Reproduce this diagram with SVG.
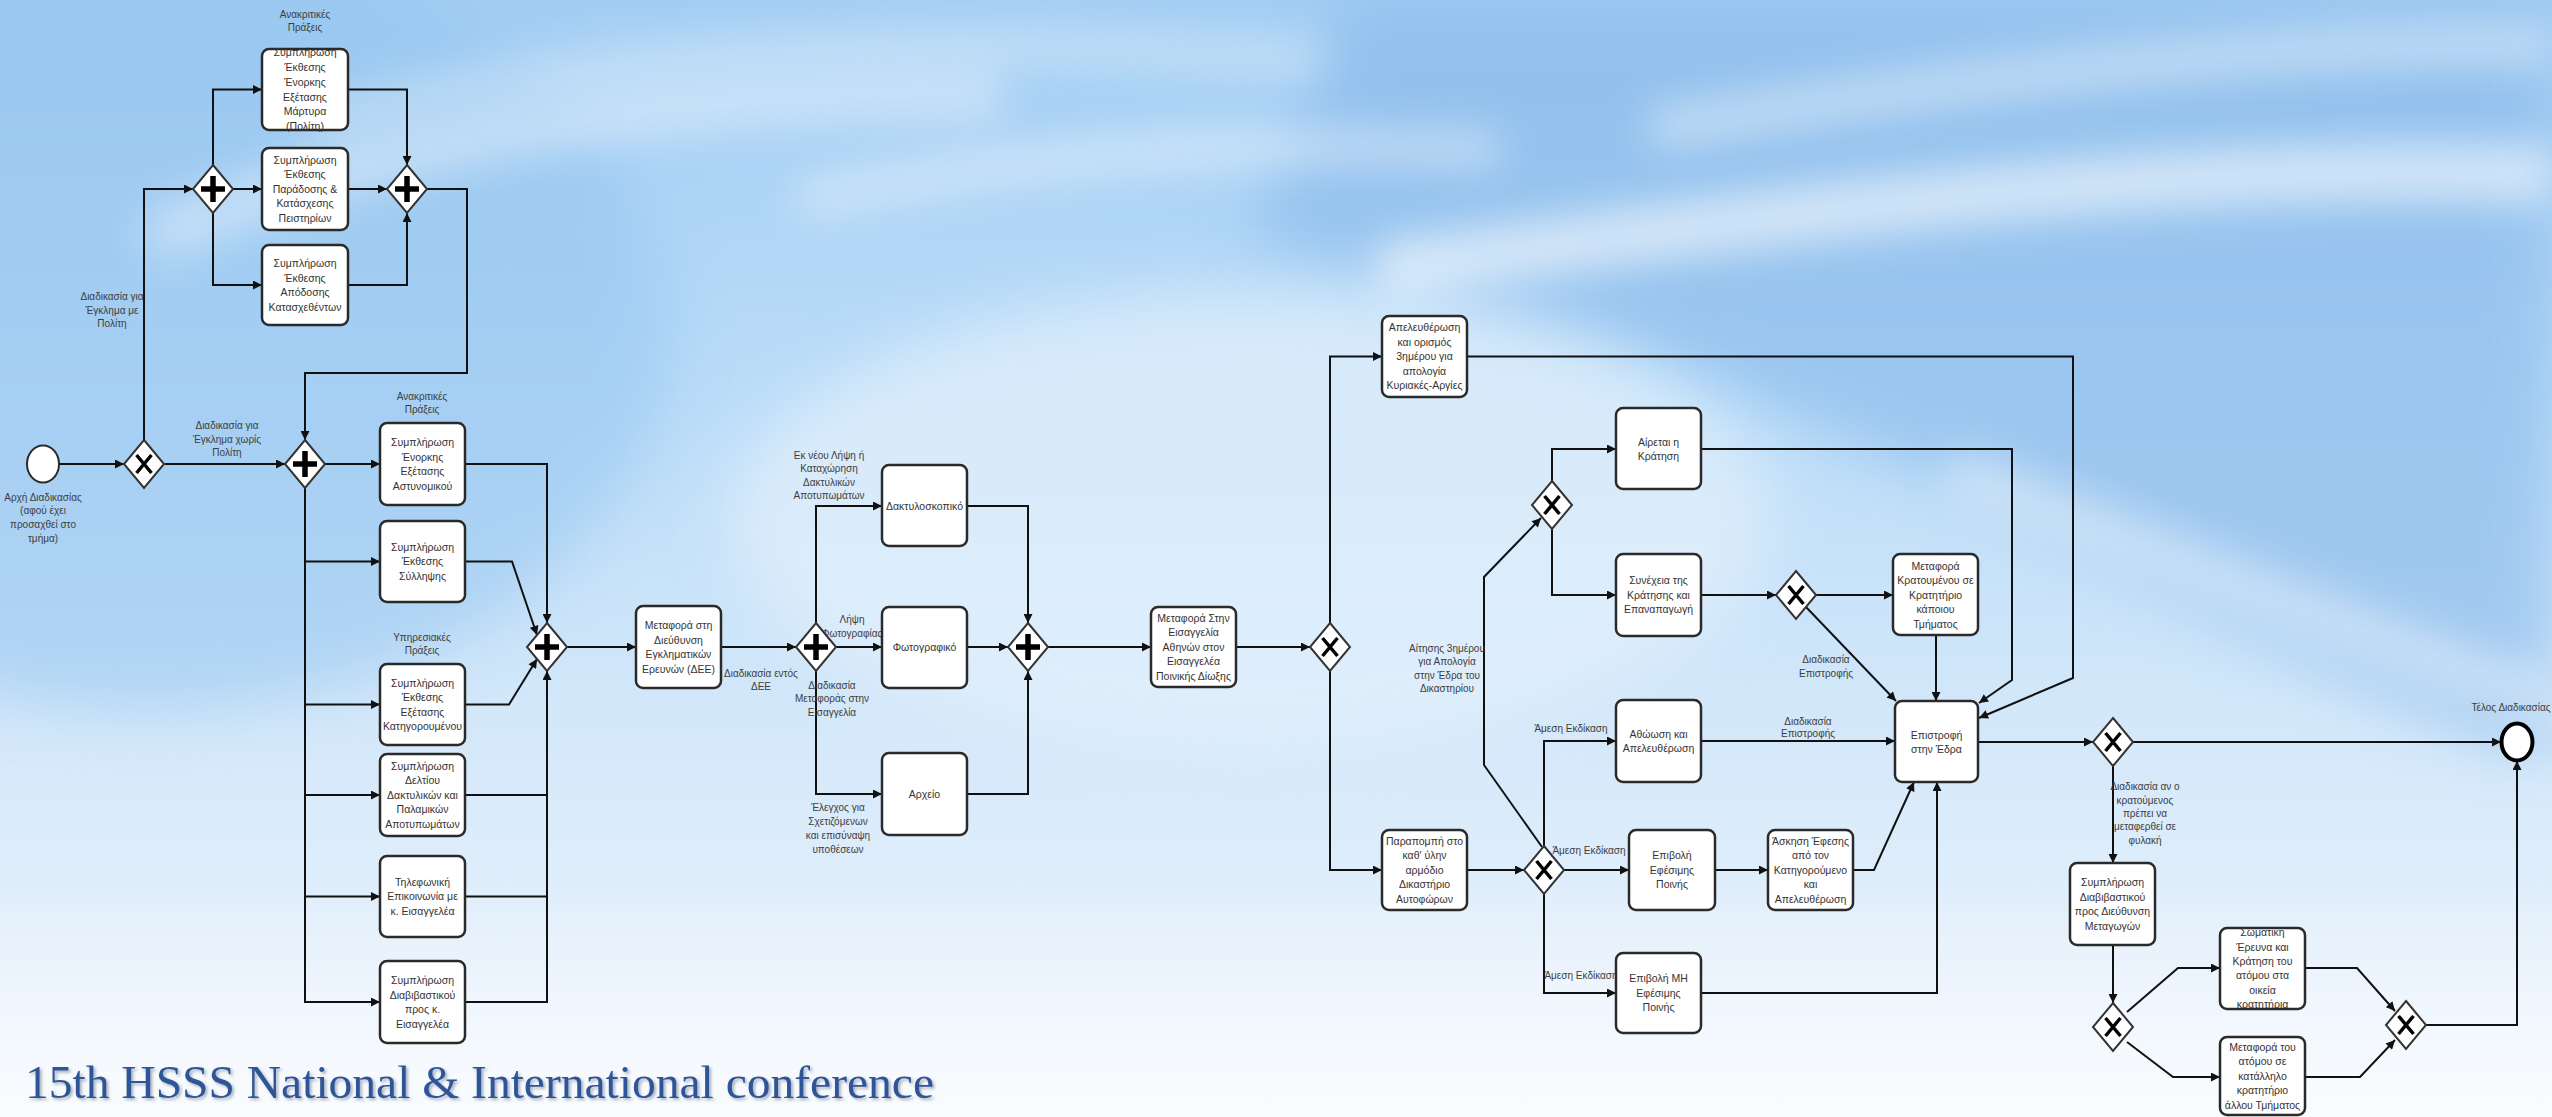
<svg xmlns="http://www.w3.org/2000/svg" xmlns:xlink="http://www.w3.org/1999/xlink" width="2552" height="1117" viewBox="0 0 2552 1117">
  <style>
    .task { fill: #ffffff; stroke: #2a2a2a; stroke-width: 2.5; }
    .t { font-family: "Liberation Sans", Arial, sans-serif; font-size: 10.5px; fill: #333333; text-anchor: middle; }
    .lbl { font-family: "Liberation Sans", Arial, sans-serif; font-size: 10px; fill: #3d3d3d; text-anchor: middle; }
    .flow { fill: none; stroke: #111111; stroke-width: 2; stroke-linejoin: miter; marker-end: url(#arr); }
    .line { fill: none; stroke: #111111; stroke-width: 2; }
  </style>
  <defs>
    <linearGradient id="sky" x1="0" y1="0" x2="0" y2="1">
      <stop offset="0" stop-color="#a2cdf3"/>
      <stop offset="0.35" stop-color="#badcf8"/>
      <stop offset="0.7" stop-color="#d8eafa"/>
      <stop offset="1" stop-color="#eef5fd"/>
    </linearGradient>
    <linearGradient id="footHaze" x1="0" y1="0" x2="0" y2="1">
      <stop offset="0" stop-color="#ffffff" stop-opacity="0"/>
      <stop offset="1" stop-color="#ffffff" stop-opacity="0.7"/>
    </linearGradient>
    <filter id="blurBig" x="-20%" y="-20%" width="140%" height="140%"><feGaussianBlur stdDeviation="30"/></filter>
    <filter id="blurMid" x="-20%" y="-100%" width="140%" height="300%"><feGaussianBlur stdDeviation="20"/></filter>
    <filter id="titleShadow" x="-5%" y="-30%" width="110%" height="160%">
      <feDropShadow dx="2" dy="2" stdDeviation="1.5" flood-color="#6b7b95" flood-opacity="0.6"/>
    </filter>
    <marker id="arr" viewBox="0 0 10 10" refX="10" refY="5" markerWidth="10" markerHeight="9" markerUnits="userSpaceOnUse" orient="auto">
      <path d="M0,0 L10,5 L0,10 z" fill="#111111"/>
    </marker>
    <g id="gwPlus">
      <polygon points="0,-24 20,0 0,24 -20,0" fill="#ffffff" stroke="#333333" stroke-width="2"/>
      <path d="M-12,0 H12 M0,-13 V13" stroke="#000000" stroke-width="5.5" fill="none"/>
    </g>
    <g id="gwX">
      <polygon points="0,-24 20,0 0,24 -20,0" fill="#ffffff" stroke="#333333" stroke-width="2"/>
      <path d="M-7.5,-9 L7.5,9 M7.5,-9 L-7.5,9" stroke="#000000" stroke-width="3.5" fill="none"/>
    </g>
  </defs>

  <!-- sky backdrop -->
  <g id="backdrop">
    <rect x="0" y="0" width="2552" height="1117" fill="url(#sky)"/>
    <ellipse cx="150" cy="330" rx="520" ry="380" fill="#92c3ef" opacity="0.5" filter="url(#blurBig)"/>
    <path d="M1350,0 L2552,0 L2552,760 C2320,680 2120,560 1920,470 C1720,380 1520,300 1250,240 Z" fill="#86b8ea" opacity="0.6" filter="url(#blurBig)"/>
    <ellipse cx="1250" cy="520" rx="520" ry="230" fill="#e4f1fc" opacity="0.7" filter="url(#blurBig)"/>
    <path d="M150,240 C400,130 700,90 1000,95" stroke="#ffffff" stroke-width="50" fill="none" opacity="0.4" filter="url(#blurMid)"/>
    <path d="M320,120 C620,45 920,30 1320,60" stroke="#ffffff" stroke-width="36" fill="none" opacity="0.35" filter="url(#blurMid)"/>
    <path d="M800,200 C1050,150 1250,140 1500,150" stroke="#ffffff" stroke-width="34" fill="none" opacity="0.45" filter="url(#blurMid)"/>
    <path d="M1380,270 C1800,210 2200,160 2552,175" stroke="#ffffff" stroke-width="56" fill="none" opacity="0.6" filter="url(#blurMid)"/>
    <path d="M1650,130 C1980,75 2300,40 2552,45" stroke="#ffffff" stroke-width="40" fill="none" opacity="0.45" filter="url(#blurMid)"/>
    <path d="M1950,470 C2180,560 2370,640 2552,700" stroke="#ffffff" stroke-width="50" fill="none" opacity="0.4" filter="url(#blurMid)"/>
    <rect x="0" y="880" width="2552" height="237" fill="url(#footHaze)"/>
  </g>

  <!-- sequence flows -->
  <g id="connectors">
    <path class="flow" d="M59,464 H124"/>
    <path class="flow" d="M144,440 V189 H193"/>
    <path class="flow" d="M213,165 V89.5 H262"/>
    <path class="flow" d="M233,189 H262"/>
    <path class="flow" d="M213,213 V285 H262"/>
    <path class="flow" d="M348,89.5 H407 V165"/>
    <path class="flow" d="M348,189 H387"/>
    <path class="flow" d="M348,285 H407 V213"/>
    <path class="flow" d="M427,189 H467 V373 H305 V440"/>
    <path class="flow" d="M165,464 H285"/>
    <path class="flow" d="M325,464 H380"/>
    <path class="flow" d="M305,488 V561.5 H380"/>
    <path class="flow" d="M305,488 V704.5 H380"/>
    <path class="flow" d="M305,488 V795 H380"/>
    <path class="flow" d="M305,488 V896.5 H380"/>
    <path class="flow" d="M305,488 V1002 H380"/>
    <path class="flow" d="M465,464 H547 V623"/>
    <path class="flow" d="M465,561.5 H512 L537,635"/>
    <path class="flow" d="M465,704.5 H509 L537,659"/>
    <path class="line" d="M465,795 H547"/>
    <path class="line" d="M465,896.5 H547"/>
    <path class="flow" d="M465,1002 H547 V671"/>
    <path class="flow" d="M567,647 H636"/>
    <path class="flow" d="M721,647 H796"/>
    <path class="flow" d="M816,623 V506 H882"/>
    <path class="flow" d="M836,647 H882"/>
    <path class="flow" d="M816,671 V794 H882"/>
    <path class="flow" d="M967,506 H1028 V623"/>
    <path class="flow" d="M967,647 H1008"/>
    <path class="flow" d="M967,794 H1028 V671"/>
    <path class="flow" d="M1048,647 H1151"/>
    <path class="flow" d="M1236,647 H1310"/>
    <path class="flow" d="M1330,623 V356.5 H1382"/>
    <path class="flow" d="M1330,671 V870 H1382"/>
    <path class="flow" d="M1467,356.5 H2073 V678 L1979,718"/>
    <path class="flow" d="M1467,870 H1524"/>
    <path class="flow" d="M1542,847 L1484,765 V577 L1541,518"/>
    <path class="flow" d="M1544,846 V741 H1616"/>
    <path class="flow" d="M1564,870 H1629"/>
    <path class="flow" d="M1544,894 V993 H1616"/>
    <path class="flow" d="M1552,481 V449 H1616"/>
    <path class="flow" d="M1552,529 V595 H1616"/>
    <path class="flow" d="M1701,449 H2012 V680 L1979,703"/>
    <path class="flow" d="M1701,595 H1776"/>
    <path class="flow" d="M1816,595 H1893"/>
    <path class="flow" d="M1806,607 L1896,701"/>
    <path class="flow" d="M1936,635 V701"/>
    <path class="flow" d="M1701,741 H1895"/>
    <path class="flow" d="M1715,870 H1768"/>
    <path class="flow" d="M1853,870 H1874 L1914,782"/>
    <path class="flow" d="M1701,993 H1937 V782"/>
    <path class="flow" d="M1978,742 H2093"/>
    <path class="flow" d="M2133,742 H2501"/>
    <path class="flow" d="M2113,766 V863"/>
    <path class="flow" d="M2113,945 V1003"/>
    <path class="flow" d="M2127,1012 L2178,968 H2220"/>
    <path class="flow" d="M2127,1042 L2173,1077 H2220"/>
    <path class="flow" d="M2305,968 H2357 L2395,1011"/>
    <path class="flow" d="M2305,1077 H2360 L2395,1040"/>
    <path class="flow" d="M2426,1025 H2517 V761"/>
  </g>

  <!-- flow labels -->
  <g id="flow-labels">
    <text class="lbl"><tspan x="112" y="299.5">Διαδικασία για</tspan><tspan x="112" y="313.5">Έγκλημα με</tspan><tspan x="112" y="326.5">Πολίτη</tspan></text>
    <text class="lbl"><tspan x="227" y="428.5">Διαδικασία για</tspan><tspan x="227" y="442.5">Έγκλημα χωρίς</tspan><tspan x="227" y="455.5">Πολίτη</tspan></text>
    <text class="lbl"><tspan x="305" y="17.5">Ανακριτικές</tspan><tspan x="305" y="30.5">Πράξεις</tspan></text>
    <text class="lbl"><tspan x="422" y="399.5">Ανακριτικές</tspan><tspan x="422" y="412.5">Πράξεις</tspan></text>
    <text class="lbl"><tspan x="422" y="640.5">Υπηρεσιακές</tspan><tspan x="422" y="653.5">Πράξεις</tspan></text>
    <text class="lbl"><tspan x="761" y="676.5">Διαδικασία εντός</tspan><tspan x="761" y="689.5">ΔΕΕ</tspan></text>
    <text class="lbl"><tspan x="829" y="458.5">Εκ νέου Λήψη ή</tspan><tspan x="829" y="471.5">Καταχώρηση</tspan><tspan x="829" y="485.5">Δακτυλικών</tspan><tspan x="829" y="498.5">Αποτυπωμάτων</tspan></text>
    <text class="lbl"><tspan x="852" y="622.5">Λήψη</tspan><tspan x="852" y="636.5">Φωτογραφίας</tspan></text>
    <text class="lbl"><tspan x="832" y="688.5">Διαδικασία</tspan><tspan x="832" y="701.5">Μεταφοράς στην</tspan><tspan x="832" y="715.5">Εισαγγελία</tspan></text>
    <text class="lbl"><tspan x="838" y="810.5">Έλεγχος για</tspan><tspan x="838" y="824.5">Σχετιζόμενων</tspan><tspan x="838" y="838.5">και επισύναψη</tspan><tspan x="838" y="852.5">υποθέσεων</tspan></text>
    <text class="lbl"><tspan x="1447" y="651.5">Αίτησης 3ημέρου</tspan><tspan x="1447" y="664.5">για Απολογία</tspan><tspan x="1447" y="678.5">στην Έδρα του</tspan><tspan x="1447" y="691.5">Δικαστηρίου</tspan></text>
    <text class="lbl" x="1571" y="731.5">Άμεση Εκδίκαση</text>
    <text class="lbl" x="1589" y="853.5">Άμεση Εκδίκαση</text>
    <text class="lbl" x="1581" y="978.5">Άμεση Εκδίκαση</text>
    <text class="lbl"><tspan x="1826" y="662.5">Διαδικασία</tspan><tspan x="1826" y="676.5">Επιστροφής</tspan></text>
    <text class="lbl"><tspan x="1808" y="724.5">Διαδικασία</tspan><tspan x="1808" y="736.5">Επιστροφής</tspan></text>
    <text class="lbl"><tspan x="2145" y="789.5">Διαδικασία αν ο</tspan><tspan x="2145" y="803.5">κρατούμενος</tspan><tspan x="2145" y="816.5">πρέπει να</tspan><tspan x="2145" y="829.5">μεταφερθεί σε</tspan><tspan x="2145" y="843.5">φυλακή</tspan></text>
  </g>

  <!-- events -->
  <g id="start">
    <ellipse cx="43" cy="464" rx="16" ry="18.5" fill="#ffffff" stroke="#2a2a2a" stroke-width="2"/>
    <text class="lbl"><tspan x="43" y="500.5">Αρχή Διαδικασίας</tspan><tspan x="43" y="513.5">(αφού έχει</tspan><tspan x="43" y="527.5">προσαχθεί στο</tspan><tspan x="43" y="541.5">τμήμα)</tspan></text>
  </g>
  <g id="end">
    <ellipse cx="2517" cy="742" rx="15.5" ry="18.5" fill="#ffffff" stroke="#000000" stroke-width="4"/>
    <text class="lbl" x="2511" y="710.5">Τέλος Διαδικασίας</text>
  </g>

  <!-- gateways -->
  <use id="gw-crime-type" href="#gwX" x="144" y="464"/>
  <use id="gw-civ-split" href="#gwPlus" x="213" y="189"/>
  <use id="gw-civ-join" href="#gwPlus" x="407" y="189"/>
  <use id="gw-acts-split" href="#gwPlus" x="305" y="464"/>
  <use id="gw-acts-join" href="#gwPlus" x="547" y="647"/>
  <use id="gw-dee-split" href="#gwPlus" x="816" y="647"/>
  <use id="gw-dee-join" href="#gwPlus" x="1028" y="647"/>
  <use id="gw-prosecutor" href="#gwX" x="1330" y="647"/>
  <use id="gw-defense-term" href="#gwX" x="1552" y="505"/>
  <use id="gw-detention" href="#gwX" x="1796" y="595"/>
  <use id="gw-trial" href="#gwX" x="1544" y="870"/>
  <use id="gw-return" href="#gwX" x="2113" y="742"/>
  <use id="gw-transfer-split" href="#gwX" x="2113" y="1027"/>
  <use id="gw-transfer-join" href="#gwX" x="2406" y="1025"/>

  <!-- tasks -->
  <g id="task-witness">
    <rect class="task" x="262" y="49" width="86" height="81" rx="7"/>
    <text class="t"><tspan x="305" y="56">Συμπλήρωση</tspan><tspan x="305" y="71">Έκθεσης</tspan><tspan x="305" y="86">Ένορκης</tspan><tspan x="305" y="101">Εξέτασης</tspan><tspan x="305" y="115">Μάρτυρα</tspan><tspan x="305" y="130">(Πολίτη)</tspan></text>
  </g>
  <g id="task-seizure">
    <rect class="task" x="262" y="148" width="86" height="82" rx="7"/>
    <text class="t"><tspan x="305" y="163.7">Συμπλήρωση</tspan><tspan x="305" y="178.2">Έκθεσης</tspan><tspan x="305" y="192.7">Παράδοσης &amp;</tspan><tspan x="305" y="207.2">Κατάσχεσης</tspan><tspan x="305" y="221.7">Πειστηρίων</tspan></text>
  </g>
  <g id="task-return-items">
    <rect class="task" x="262" y="245" width="86" height="80" rx="7"/>
    <text class="t"><tspan x="305" y="267">Συμπλήρωση</tspan><tspan x="305" y="281.5">Έκθεσης</tspan><tspan x="305" y="296">Απόδοσης</tspan><tspan x="305" y="310.5">Κατασχεθέντων</tspan></text>
  </g>

  <g id="task-officer-statement">
    <rect class="task" x="380" y="423" width="85" height="82" rx="7"/>
    <text class="t"><tspan x="422.5" y="446">Συμπλήρωση</tspan><tspan x="422.5" y="460.5">Ένορκης</tspan><tspan x="422.5" y="475">Εξέτασης</tspan><tspan x="422.5" y="489.5">Αστυνομικού</tspan></text>
  </g>
  <g id="task-arrest-report">
    <rect class="task" x="380" y="521" width="85" height="81" rx="7"/>
    <text class="t"><tspan x="422.5" y="550.7">Συμπλήρωση</tspan><tspan x="422.5" y="565.2">Έκθεσης</tspan><tspan x="422.5" y="579.7">Σύλληψης</tspan></text>
  </g>
  <g id="task-defendant-statement">
    <rect class="task" x="380" y="664" width="85" height="81" rx="7"/>
    <text class="t"><tspan x="422.5" y="686.5">Συμπλήρωση</tspan><tspan x="422.5" y="701">Έκθεσης</tspan><tspan x="422.5" y="715.5">Εξέτασης</tspan><tspan x="422.5" y="730">Κατηγορουμένου</tspan></text>
  </g>
  <g id="task-fingerprints">
    <rect class="task" x="380" y="754" width="85" height="82" rx="7"/>
    <text class="t"><tspan x="422.5" y="769.7">Συμπλήρωση</tspan><tspan x="422.5" y="784.2">Δελτίου</tspan><tspan x="422.5" y="798.7">Δακτυλικών και</tspan><tspan x="422.5" y="813.2">Παλαμικών</tspan><tspan x="422.5" y="827.7">Αποτυπωμάτων</tspan></text>
  </g>
  <g id="task-phone-prosecutor">
    <rect class="task" x="380" y="856" width="85" height="81" rx="7"/>
    <text class="t"><tspan x="422.5" y="885.7">Τηλεφωνική</tspan><tspan x="422.5" y="900.2">Επικοινωνία με</tspan><tspan x="422.5" y="914.7">κ. Εισαγγελέα</tspan></text>
  </g>
  <g id="task-cover-prosecutor">
    <rect class="task" x="380" y="961" width="85" height="82" rx="7"/>
    <text class="t"><tspan x="422.5" y="984">Συμπλήρωση</tspan><tspan x="422.5" y="998.5">Διαβιβαστικού</tspan><tspan x="422.5" y="1013">προς κ.</tspan><tspan x="422.5" y="1027.5">Εισαγγελέα</tspan></text>
  </g>

  <g id="task-dee">
    <rect class="task" x="636" y="606" width="85" height="82" rx="7"/>
    <text class="t"><tspan x="678.5" y="629">Μεταφορά στη</tspan><tspan x="678.5" y="643.5">Διεύθυνση</tspan><tspan x="678.5" y="658">Εγκληματικών</tspan><tspan x="678.5" y="672.5">Ερευνών (ΔΕΕ)</tspan></text>
  </g>
  <g id="task-dactyloscopy">
    <rect class="task" x="882" y="465" width="85" height="81" rx="7"/>
    <text class="t" x="924.5" y="509.7">Δακτυλοσκοπικό</text>
  </g>
  <g id="task-photo">
    <rect class="task" x="882" y="607" width="85" height="81" rx="7"/>
    <text class="t" x="924.5" y="650.7">Φωτογραφικό</text>
  </g>
  <g id="task-archive">
    <rect class="task" x="882" y="753" width="85" height="82" rx="7"/>
    <text class="t" x="924.5" y="797.7">Αρχείο</text>
  </g>

  <g id="task-athens-prosecutor">
    <rect class="task" x="1151" y="607" width="85" height="80" rx="7"/>
    <text class="t"><tspan x="1193.5" y="621.7">Μεταφορά Στην</tspan><tspan x="1193.5" y="636.2">Εισαγγελία</tspan><tspan x="1193.5" y="650.7">Αθηνών στον</tspan><tspan x="1193.5" y="665.2">Εισαγγελέα</tspan><tspan x="1193.5" y="679.7">Ποινικής Δίωξης</tspan></text>
  </g>
  <g id="task-release-holiday">
    <rect class="task" x="1382" y="316" width="85" height="81" rx="7"/>
    <text class="t"><tspan x="1424.5" y="331.2">Απελευθέρωση</tspan><tspan x="1424.5" y="345.7">και ορισμός</tspan><tspan x="1424.5" y="360.2">3ημέρου για</tspan><tspan x="1424.5" y="374.7">απολογία</tspan><tspan x="1424.5" y="389.2">Κυριακές-Αργίες</tspan></text>
  </g>
  <g id="task-court-referral">
    <rect class="task" x="1382" y="830" width="85" height="80" rx="7"/>
    <text class="t"><tspan x="1424.5" y="844.7">Παραπομπή στο</tspan><tspan x="1424.5" y="859.2">καθ' ύλην</tspan><tspan x="1424.5" y="873.7">αρμόδιο</tspan><tspan x="1424.5" y="888.2">Δικαστήριο</tspan><tspan x="1424.5" y="902.7">Αυτοφώρων</tspan></text>
  </g>
  <g id="task-detention-lifted">
    <rect class="task" x="1616" y="408" width="85" height="81" rx="7"/>
    <text class="t"><tspan x="1658.5" y="445.5">Αίρεται η</tspan><tspan x="1658.5" y="460">Κράτηση</tspan></text>
  </g>
  <g id="task-detention-continues">
    <rect class="task" x="1616" y="554" width="85" height="82" rx="7"/>
    <text class="t"><tspan x="1658.5" y="584.2">Συνέχεια της</tspan><tspan x="1658.5" y="598.7">Κράτησης και</tspan><tspan x="1658.5" y="613.2">Επαναπαγωγή</tspan></text>
  </g>
  <g id="task-holding-cell">
    <rect class="task" x="1893" y="554" width="85" height="81" rx="7"/>
    <text class="t"><tspan x="1935.5" y="569.7">Μεταφορά</tspan><tspan x="1935.5" y="584.2">Κρατουμένου σε</tspan><tspan x="1935.5" y="598.7">Κρατητήριο</tspan><tspan x="1935.5" y="613.2">κάποιου</tspan><tspan x="1935.5" y="627.7">Τμήματος</tspan></text>
  </g>
  <g id="task-acquittal">
    <rect class="task" x="1616" y="700" width="85" height="82" rx="7"/>
    <text class="t"><tspan x="1658.5" y="737.5">Αθώωση και</tspan><tspan x="1658.5" y="752">Απελευθέρωση</tspan></text>
  </g>
  <g id="task-return-base">
    <rect class="task" x="1895" y="701" width="83" height="81" rx="7"/>
    <text class="t"><tspan x="1936.5" y="738.5">Επιστροφή</tspan><tspan x="1936.5" y="753">στην Έδρα</tspan></text>
  </g>
  <g id="task-appealable">
    <rect class="task" x="1629" y="830" width="86" height="80" rx="7"/>
    <text class="t"><tspan x="1672" y="859.2">Επιβολή</tspan><tspan x="1672" y="873.7">Εφέσιμης</tspan><tspan x="1672" y="888.2">Ποινής</tspan></text>
  </g>
  <g id="task-appeal">
    <rect class="task" x="1768" y="830" width="85" height="80" rx="7"/>
    <text class="t"><tspan x="1810.5" y="844.7">Άσκηση Έφεσης</tspan><tspan x="1810.5" y="859.2">από τον</tspan><tspan x="1810.5" y="873.7">Κατηγορούμενο</tspan><tspan x="1810.5" y="888.2">και</tspan><tspan x="1810.5" y="902.7">Απελευθέρωση</tspan></text>
  </g>
  <g id="task-non-appealable">
    <rect class="task" x="1616" y="953" width="85" height="80" rx="7"/>
    <text class="t"><tspan x="1658.5" y="982.2">Επιβολή ΜΗ</tspan><tspan x="1658.5" y="996.7">Εφέσιμης</tspan><tspan x="1658.5" y="1011.2">Ποινής</tspan></text>
  </g>
  <g id="task-escort-cover">
    <rect class="task" x="2070" y="863" width="85" height="82" rx="7"/>
    <text class="t"><tspan x="2112.5" y="886">Συμπλήρωση</tspan><tspan x="2112.5" y="900.5">Διαβιβαστικού</tspan><tspan x="2112.5" y="915">προς Διεύθυνση</tspan><tspan x="2112.5" y="929.5">Μεταγωγών</tspan></text>
  </g>
  <g id="task-search-hold">
    <rect class="task" x="2220" y="928" width="85" height="81" rx="7"/>
    <text class="t"><tspan x="2262.5" y="936.2">Σωματική</tspan><tspan x="2262.5" y="950.6">Έρευνα και</tspan><tspan x="2262.5" y="965">Κράτηση του</tspan><tspan x="2262.5" y="979.4">ατόμου στα</tspan><tspan x="2262.5" y="993.8">οικεία</tspan><tspan x="2262.5" y="1008.2">κρατητήρια</tspan></text>
  </g>
  <g id="task-other-cell">
    <rect class="task" x="2220" y="1037" width="85" height="78" rx="7"/>
    <text class="t"><tspan x="2262.5" y="1050.7">Μεταφορά του</tspan><tspan x="2262.5" y="1065.2">ατόμου σε</tspan><tspan x="2262.5" y="1079.7">κατάλληλο</tspan><tspan x="2262.5" y="1094.2">κρατητήριο</tspan><tspan x="2262.5" y="1108.7">άλλου Τμήματος</tspan></text>
  </g>

  <!-- conference footer -->
  <text id="footer" x="25" y="1098" font-family="'Liberation Serif', 'Times New Roman', serif" font-size="46" fill="#2f5597" textLength="909" lengthAdjust="spacingAndGlyphs" filter="url(#titleShadow)">15th HSSS National &amp; International conference</text>
</svg>
